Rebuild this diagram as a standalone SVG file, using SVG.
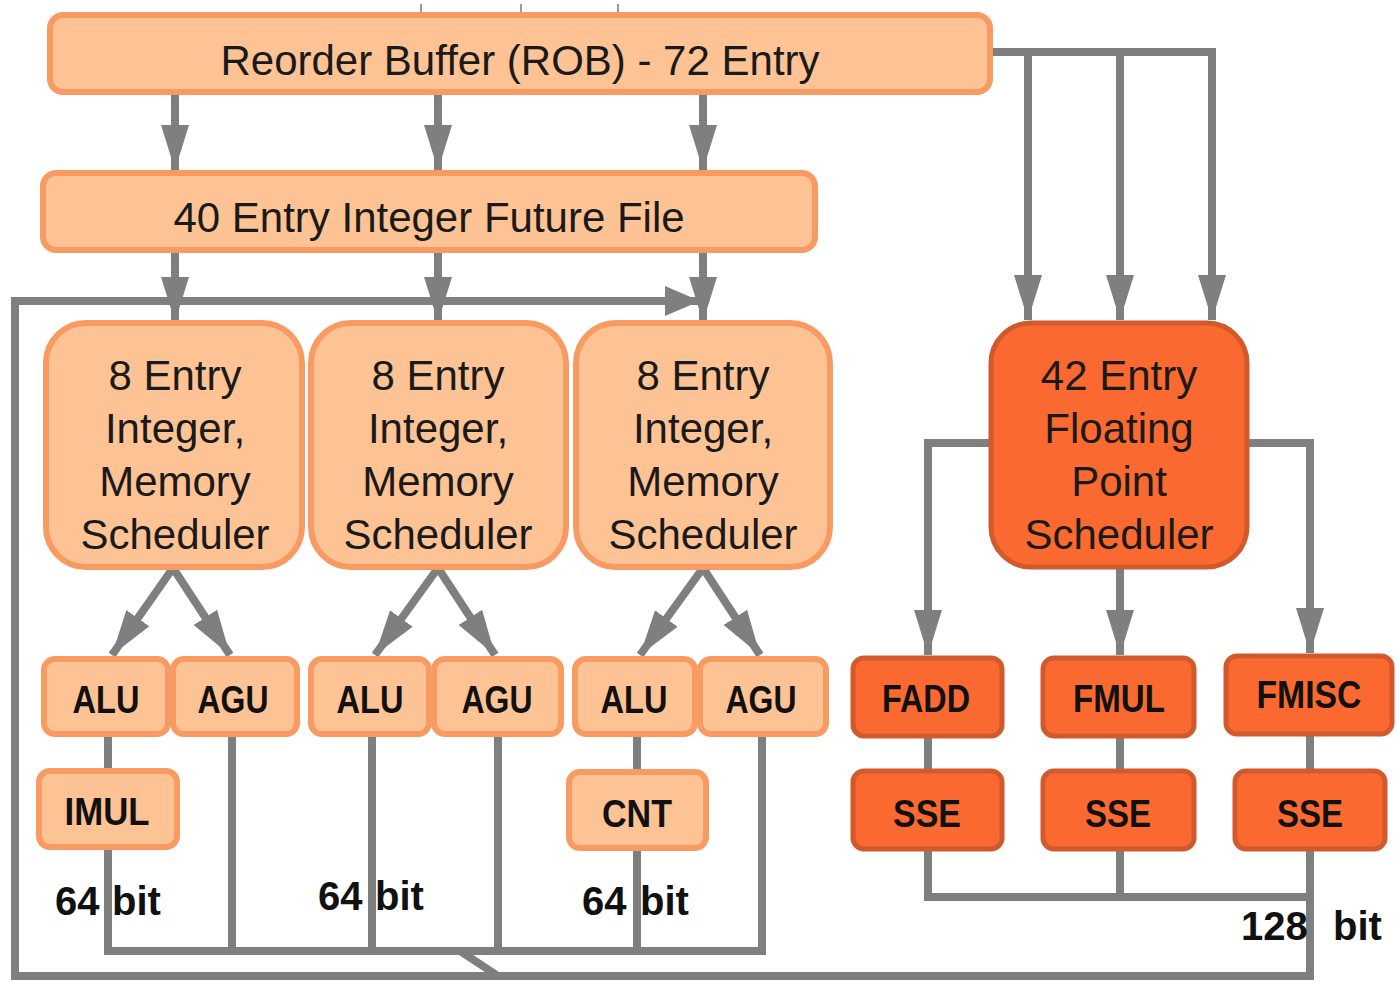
<svg xmlns="http://www.w3.org/2000/svg" width="1397" height="982" viewBox="0 0 1397 982">
<defs>
<style>
.lt{fill:#FDC394;stroke:#F89B63;stroke-width:6}
.dk{fill:#FA6A30;stroke:#D2592C;stroke-width:5}
.c{fill:none;stroke:#7F7F7F;stroke-width:8}
.t{font-family:"Liberation Sans",Arial,sans-serif;font-size:42px;fill:#1a1a1a;text-anchor:middle}
.b{font-family:"Liberation Sans",Arial,sans-serif;font-size:39px;font-weight:bold;fill:#111;text-anchor:middle}
.lb{font-family:"Liberation Sans",Arial,sans-serif;font-size:40px;font-weight:bold;fill:#111}
</style>
<marker id="ah" markerUnits="userSpaceOnUse" markerWidth="46" markerHeight="30" refX="45" refY="14" orient="auto">
<path d="M0,0 L45,14 L0,28 z" fill="#7F7F7F"/>
</marker>
<marker id="ahs" markerUnits="userSpaceOnUse" markerWidth="36" markerHeight="32" refX="35" refY="15" orient="auto">
<path d="M0,0 L35,15 L0,30 z" fill="#7F7F7F"/>
</marker>
</defs>
<rect width="1397" height="982" fill="#fff"/>
<g id="connectors">
<path d="M421,4 V13 M521,4 V13 M618,4 V13" fill="none" stroke="#9a9a9a" stroke-width="2"/>
<path class="c" d="M175,93 V170" marker-end="url(#ah)"/>
<path class="c" d="M438,93 V170" marker-end="url(#ah)"/>
<path class="c" d="M703,93 V170" marker-end="url(#ah)"/>
<path class="c" d="M175,251 V322" marker-end="url(#ah)"/>
<path class="c" d="M438,251 V322" marker-end="url(#ah)"/>
<path class="c" d="M703,251 V322" marker-end="url(#ah)"/>
<path class="c" d="M1310,733 V976 H15 V301 H700" marker-end="url(#ahs)"/>
<path class="c" d="M460,951 L498,976"/>
<path class="c" d="M173,568 L112,655" marker-end="url(#ah)"/>
<path class="c" d="M173,568 L230,655" marker-end="url(#ah)"/>
<path class="c" d="M438,568 L375,655" marker-end="url(#ah)"/>
<path class="c" d="M438,568 L495,655" marker-end="url(#ah)"/>
<path class="c" d="M703,568 L640,655" marker-end="url(#ah)"/>
<path class="c" d="M703,568 L760,655" marker-end="url(#ah)"/>
<path class="c" d="M108,735 V951 H762 V735"/>
<path class="c" d="M232,735 V951 M372,735 V951 M498,735 V951 M637,735 V951"/>
<path class="c" d="M990,52 H1212 V320" marker-end="url(#ah)"/>
<path class="c" d="M1028,52 V320" marker-end="url(#ah)"/>
<path class="c" d="M1120,52 V320" marker-end="url(#ah)"/>
<path class="c" d="M990,443 H928 V655" marker-end="url(#ah)"/>
<path class="c" d="M1120,568 V655" marker-end="url(#ah)"/>
<path class="c" d="M1247,443 H1310 V653" marker-end="url(#ah)"/>
<path class="c" d="M928,737 V897 H1310 M1120,737 V897"/>
</g>
<g id="rob"><rect class="lt" x="50" y="15" width="940" height="77" rx="13"/>
<text class="t" x="520" y="75">Reorder Buffer (ROB) - 72 Entry</text></g>
<g id="iff"><rect class="lt" x="43" y="173" width="772" height="77" rx="13"/>
<text class="t" x="429" y="232">40 Entry Integer Future File</text></g>
<g id="sched1"><rect class="lt" x="46" y="323" width="256" height="244" rx="40"/>
<text class="t" x="175" y="390">8 Entry</text><text class="t" x="175" y="443">Integer,</text><text class="t" x="175" y="496">Memory</text><text class="t" x="175" y="549">Scheduler</text></g>
<g id="sched2"><rect class="lt" x="311" y="323" width="255" height="244" rx="40"/>
<text class="t" x="438" y="390">8 Entry</text><text class="t" x="438" y="443">Integer,</text><text class="t" x="438" y="496">Memory</text><text class="t" x="438" y="549">Scheduler</text></g>
<g id="sched3"><rect class="lt" x="576" y="323" width="254" height="244" rx="40"/>
<text class="t" x="703" y="390">8 Entry</text><text class="t" x="703" y="443">Integer,</text><text class="t" x="703" y="496">Memory</text><text class="t" x="703" y="549">Scheduler</text></g>
<g id="fpsched"><rect class="dk" x="991" y="323" width="256" height="244" rx="40"/>
<text class="t" x="1119" y="390">42 Entry</text><text class="t" x="1119" y="443">Floating</text><text class="t" x="1119" y="496">Point</text><text class="t" x="1119" y="549">Scheduler</text></g>
<g id="alu1"><rect class="lt" x="44" y="659" width="124" height="75" rx="11"/><text class="b" x="106" y="713" textLength="67" lengthAdjust="spacingAndGlyphs">ALU</text></g>
<g id="agu1"><rect class="lt" x="173" y="659" width="124" height="75" rx="11"/><text class="b" x="233" y="713" textLength="71" lengthAdjust="spacingAndGlyphs">AGU</text></g>
<g id="alu2"><rect class="lt" x="311" y="659" width="118" height="75" rx="11"/><text class="b" x="370" y="713" textLength="67" lengthAdjust="spacingAndGlyphs">ALU</text></g>
<g id="agu2"><rect class="lt" x="434" y="659" width="127" height="75" rx="11"/><text class="b" x="497" y="713" textLength="71" lengthAdjust="spacingAndGlyphs">AGU</text></g>
<g id="alu3"><rect class="lt" x="575" y="659" width="120" height="75" rx="11"/><text class="b" x="634" y="713" textLength="67" lengthAdjust="spacingAndGlyphs">ALU</text></g>
<g id="agu3"><rect class="lt" x="700" y="659" width="126" height="75" rx="11"/><text class="b" x="761" y="713" textLength="71" lengthAdjust="spacingAndGlyphs">AGU</text></g>
<g id="imul"><rect class="lt" x="39" y="771" width="138" height="76" rx="11"/><text class="b" x="107" y="825" textLength="85" lengthAdjust="spacingAndGlyphs">IMUL</text></g>
<g id="cnt"><rect class="lt" x="569" y="772" width="137" height="76" rx="11"/><text class="b" x="637" y="827" textLength="70" lengthAdjust="spacingAndGlyphs">CNT</text></g>
<g id="fadd"><rect class="dk" x="853" y="658" width="149" height="78" rx="11"/><text class="b" x="926" y="712" textLength="88" lengthAdjust="spacingAndGlyphs">FADD</text></g>
<g id="fmul"><rect class="dk" x="1043" y="658" width="151" height="78" rx="11"/><text class="b" x="1119" y="712" textLength="92" lengthAdjust="spacingAndGlyphs">FMUL</text></g>
<g id="fmisc"><rect class="dk" x="1226" y="656" width="166" height="78" rx="11"/><text class="b" x="1309" y="708" textLength="105" lengthAdjust="spacingAndGlyphs">FMISC</text></g>
<g id="sse1"><rect class="dk" x="853" y="771" width="149" height="78" rx="11"/><text class="b" x="927" y="827" textLength="68" lengthAdjust="spacingAndGlyphs">SSE</text></g>
<g id="sse2"><rect class="dk" x="1043" y="771" width="151" height="78" rx="11"/><text class="b" x="1118" y="827" textLength="66" lengthAdjust="spacingAndGlyphs">SSE</text></g>
<g id="sse3"><rect class="dk" x="1235" y="771" width="150" height="78" rx="11"/><text class="b" x="1310" y="827" textLength="66" lengthAdjust="spacingAndGlyphs">SSE</text></g>
<g id="labels">
<text class="lb" x="55" y="915">64<tspan x="112">bit</tspan></text>
<text class="lb" x="318" y="910">64<tspan x="375">bit</tspan></text>
<text class="lb" x="582" y="915">64<tspan x="640">bit</tspan></text>
<text class="lb" x="1241" y="940">128<tspan x="1333">bit</tspan></text>
</g>
</svg>
